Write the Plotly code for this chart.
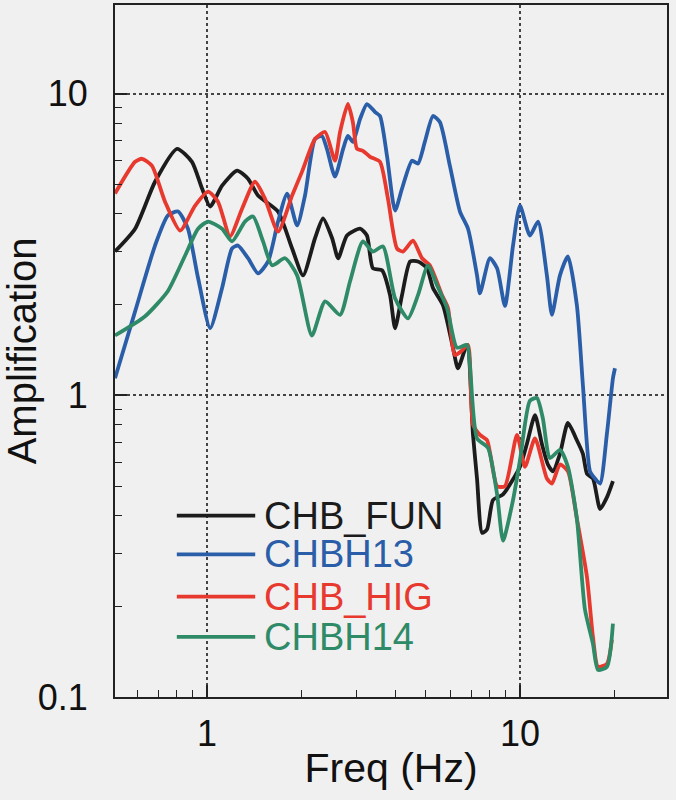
import math
import plotly.graph_objects as go

# ---- data ----
fun_freq = [0.508, 0.589, 0.682, 0.802, 0.895, 0.964, 1.023, 1.117, 1.247, 1.352, 1.455, 1.686,
            1.870, 2.027, 2.213, 2.347, 2.51, 2.624, 2.800, 3.083, 3.243, 3.388, 3.622, 3.844,
            3.988, 4.198, 4.456, 4.721, 5.042, 5.272, 5.675, 6.106, 6.337, 6.773, 7.078, 7.290,
            7.568, 7.850, 8.200, 8.828, 10.0, 10.52, 11.17, 11.75, 12.28, 12.74, 13.42, 14.23,
            15.20, 15.89, 16.37, 17.11, 18.03, 18.97, 19.82]
fun_amp = [3.00, 3.57, 5.11, 6.57, 5.95, 4.85, 4.23, 4.96, 5.56, 5.23, 4.60, 4.07,
           3.07, 2.50, 3.32, 3.86, 3.32, 2.85, 3.39, 3.57, 3.39, 2.64, 2.60, 2.15,
           1.67, 2.15, 2.78, 2.78, 2.64, 2.27, 1.99, 1.44, 1.23, 1.47, 0.74, 0.53,
           0.35, 0.36, 0.45, 0.47, 0.58, 0.69, 0.86, 0.69, 0.59, 0.56, 0.64, 0.81,
           0.71, 0.64, 0.55, 0.53, 0.42, 0.46, 0.52]

h13_freq = [0.508, 0.589, 0.682, 0.750, 0.808, 0.869, 0.936, 1.023, 1.117, 1.202, 1.256, 1.352,
            1.455, 1.567, 1.686, 1.803, 1.940, 2.056, 2.213, 2.328, 2.416, 2.563, 2.722, 2.819,
            2.924, 3.083, 3.243, 3.443, 3.570, 3.758, 3.988, 4.198, 4.518, 4.721, 4.966, 5.272,
            5.546, 5.971, 6.430, 6.823, 7.290, 7.447, 8.016, 8.449, 8.954, 9.502, 10.0, 10.76,
            11.42, 12.19, 12.65, 13.42, 14.23, 15.20, 15.89, 16.74, 17.37, 18.03, 18.97, 19.82,
            20.12]
h13_amp = [1.14, 1.90, 3.14, 3.95, 4.07, 3.57, 2.45, 1.67, 2.27, 3.07, 3.14, 2.85,
           2.54, 2.78, 3.77, 4.67, 3.66, 4.60, 7.08, 7.25, 6.57, 5.31, 6.57, 7.25,
           6.93, 8.25, 9.25, 8.70, 8.44, 6.23, 4.10, 4.85, 6.00, 5.87, 6.93, 8.44,
           8.06, 5.77, 4.07, 3.57, 2.50, 2.18, 2.85, 2.64, 1.98, 3.14, 4.26, 3.39,
           3.77, 2.50, 1.85, 2.50, 2.89, 1.99, 1.08, 0.56, 0.53, 0.51, 0.75, 1.14,
           1.23]

hig_freq = [0.508, 0.589, 0.620, 0.667, 0.734, 0.820, 0.916, 1.007, 1.084, 1.184, 1.294, 1.423,
            1.531, 1.686, 1.870, 2.012, 2.213, 2.383, 2.563, 2.661, 2.819, 2.924, 3.013, 3.148,
            3.319, 3.570, 3.785, 4.046, 4.227, 4.550, 4.864, 5.152, 5.636, 5.888, 6.194, 6.531,
            6.823, 7.078, 7.447, 7.850, 8.449, 8.954, 9.782, 10.37, 11.17, 12.19, 12.65, 13.42,
            14.23, 15.20, 16.37, 17.11, 17.75, 18.97, 19.67]
hig_amp = [4.67, 5.95, 6.09, 5.77, 4.39, 3.52, 4.26, 4.74, 4.39, 3.37, 4.16, 5.11,
           4.49, 3.49, 4.60, 5.52, 7.08, 7.47, 6.00, 7.47, 9.25, 8.06, 6.57, 6.47,
           6.18, 5.95, 4.49, 3.07, 3.00, 3.26, 2.85, 2.70, 2.15, 1.95, 1.36, 1.41,
           1.47, 0.80, 0.74, 0.71, 0.50, 0.50, 0.74, 0.58, 0.72, 0.53, 0.51, 0.59,
           0.56, 0.39, 0.25, 0.158, 0.126, 0.129, 0.155]

h14_freq = [0.508, 0.634, 0.750, 0.851, 0.936, 1.007, 1.117, 1.202, 1.322, 1.403, 1.510, 1.614,
            1.775, 1.940, 2.163, 2.383, 2.661, 2.864, 3.148, 3.388, 3.648, 3.988, 4.386, 4.721,
            5.080, 5.430, 5.845, 6.289, 6.773, 6.918, 7.290, 7.900, 8.449, 8.828, 9.502, 10.0,
            10.76, 11.33, 11.83, 12.47, 13.42, 14.23, 15.20, 16.13, 17.11, 17.75, 18.97, 19.82]
h14_amp = [1.58, 1.83, 2.22, 2.91, 3.57, 3.77, 3.57, 3.24, 3.77, 3.92, 3.24, 2.70,
           2.85, 2.50, 1.58, 2.05, 1.85, 2.39, 3.24, 3.00, 3.12, 2.10, 1.80, 2.15,
           2.70, 2.32, 1.95, 1.44, 1.47, 1.26, 0.72, 0.67, 0.47, 0.33, 0.45, 0.61,
           0.96, 0.98, 0.84, 0.62, 0.66, 0.58, 0.39, 0.195, 0.150, 0.123, 0.126, 0.175]

series_names = ["CHB_FUN", "CHBH13", "CHB_HIG", "CHBH14"]
series_colors = ["#1c1c1c", "#2b5ea8", "#e8392f", "#2f8a67"]
series_data = [(fun_freq, fun_amp), (h13_freq, h13_amp), (hig_freq, hig_amp), (h14_freq, h14_amp)]

xtick_vals = [1, 10]
xtick_text = ["1", "10"]
ytick_vals = [0.1, 1, 10]
ytick_text = ["0.1", "1", "10"]
x_range = [0.508, 29.5]
y_range = [0.1, 19.7]

FONT = "Liberation Sans, Arial, sans-serif"
xr = [math.log10(v) for v in x_range]
yr = [math.log10(v) for v in y_range]

fig = go.Figure()
for name, color, (fx, ay) in zip(series_names, series_colors, series_data):
    fig.add_trace(go.Scatter(
        x=fx, y=ay, mode="lines", name=name, showlegend=False,
        line=dict(color=color, width=3.8, shape="spline", smoothing=0.6),
    ))

tick_common = dict(
    type="log", zeroline=False,
    ticks="inside", ticklen=12, tickwidth=1.5, tickcolor="#222",
    minor=dict(ticks="inside", ticklen=7, tickwidth=1.3, tickcolor="#222",
               dtick="D1", showgrid=False),
    automargin=False,
)

fig.update_layout(
    xaxis=dict(
        **tick_common, range=xr,
        showline=True, linecolor="#222", linewidth=1.8, mirror=True,
        showgrid=True, gridcolor="#444", gridwidth=1.5, griddash="dot",
        tickvals=xtick_vals, ticktext=xtick_text,
        tickfont=dict(family=FONT, size=36, color="#111"),
        ticklabelstandoff=4,
        title=dict(text="Freq (Hz)", font=dict(family=FONT, size=41, color="#111"), standoff=0),
    ),
    yaxis=dict(
        **tick_common, range=yr,
        showline=True, linecolor="#222", linewidth=1.8, mirror=True,
        showgrid=True, gridcolor="#444", gridwidth=1.5, griddash="dot",
        tickvals=ytick_vals, ticktext=ytick_text,
        tickfont=dict(family=FONT, size=36, color="#111"),
        ticklabelstandoff=18,
        title=dict(text="Amplification", font=dict(family=FONT, size=40, color="#111"), standoff=2),
    ),
    xaxis2=dict(
        **tick_common, range=xr, overlaying="x", anchor="y", side="top",
        showgrid=False, showticklabels=False, tickvals=xtick_vals,
    ),
    yaxis2=dict(
        **tick_common, range=yr, overlaying="y", anchor="x", side="right",
        showgrid=False, showticklabels=False, tickvals=ytick_vals,
    ),
)

# legend drawn as line samples + coloured labels (paper coordinates)
leg_x0, leg_x1, leg_tx = 0.112, 0.254, 0.266
leg_y = [0.262, 0.206, 0.145, 0.087]
for name, color, ly in zip(series_names, series_colors, leg_y):
    fig.add_shape(type="line", xref="paper", yref="paper",
                  x0=leg_x0, x1=leg_x1, y0=ly, y1=ly,
                  line=dict(color=color, width=3.8))
    fig.add_annotation(xref="paper", yref="paper", x=leg_tx, y=ly,
                       xanchor="left", yanchor="middle", showarrow=False,
                       text=name, font=dict(family=FONT, size=38, color=color))

fig.update_layout(
    width=676, height=800,
    margin=dict(l=115, r=9, t=5, b=103),
    paper_bgcolor="#f0f0f0", plot_bgcolor="#f0f0f0",
    showlegend=False,
)

fig.write_html("out.html", config={"displayModeBar": False},
               post_script="document.body.style.margin='0';")
